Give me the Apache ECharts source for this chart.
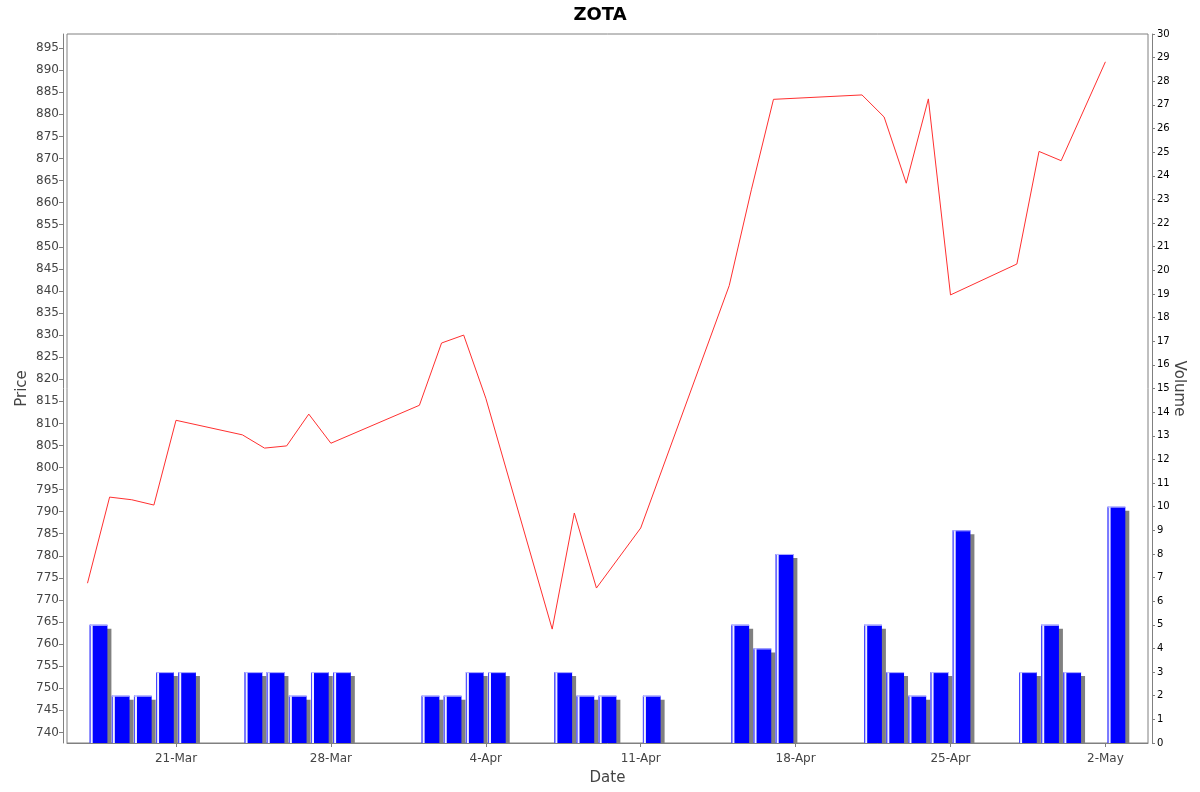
<!DOCTYPE html>
<html>
<head>
<meta charset="utf-8">
<script src="https://cdn.jsdelivr.net/npm/echarts@6/dist/echarts.min.js"></script>
<style>
  html, body { margin: 0; padding: 0; background: #fff; }
  #chart { width: 1200px; height: 792px; }
</style>
</head>
<body>
<div id="chart"></div>
<script>
// ---- data ----
const dates = [
  '2025-03-17','2025-03-18','2025-03-19','2025-03-20','2025-03-21',
  '2025-03-24','2025-03-25','2025-03-26','2025-03-27','2025-03-28',
  '2025-04-01','2025-04-02','2025-04-03','2025-04-04',
  '2025-04-07','2025-04-08','2025-04-09','2025-04-11',
  '2025-04-15','2025-04-16','2025-04-17',
  '2025-04-21','2025-04-22','2025-04-23','2025-04-24','2025-04-25',
  '2025-04-28','2025-04-29','2025-04-30',
  '2025-05-02'
];
const prices = [
  773.8, 793.3, 792.7, 791.5, 810.7,
  807.4, 804.4, 804.9, 812.1, 805.5,
  814.1, 828.2, 830.0, 815.7,
  763.4, 789.7, 772.7, 786.3,
  841.2, 862.9, 883.4,
  884.4, 879.4, 864.4, 883.5, 839.1,
  846.1, 871.6, 869.5,
  891.9
];
const volumes = [
  5, 2, 2, 3, 3,
  3, 3, 2, 3, 3,
  2, 2, 3, 3,
  3, 2, 2, 2,
  5, 4, 8,
  5, 3, 2, 3, 9,
  3, 5, 3,
  10
];
const dateTicks = ['2025-03-21','2025-03-28','2025-04-04','2025-04-11','2025-04-18','2025-04-25','2025-05-02'];
const priceTicks = [740,745,750,755,760,765,770,775,780,785,790,795,800,805,810,815,820,825,830,835,840,845,850,855,860,865,870,875,880,885,890,895];
const months = ['Jan','Feb','Mar','Apr','May','Jun','Jul','Aug','Sep','Oct','Nov','Dec'];

// ---- helpers ----
const DAY = 86400000;
function toTs(s) {
  const p = s.split('-').map(Number);
  return Date.UTC(p[0], p[1] - 1, p[2]);
}
const xMin = toTs('2025-03-16') + 0.074 * DAY;
const xMax = toTs('2025-05-03') + 0.925 * DAY;

const lineData = dates.map((d, i) => [toTs(d), prices[i]]);
const barData = dates.map((d, i) => [toTs(d), volumes[i]]);
const dateTickValues = dateTicks.map(toTs);

const chart = echarts.init(document.getElementById('chart'), null, { renderer: 'canvas' });

function renderBar(params, api) {
  const t = api.value(0);
  const v = api.value(1);
  const pTop = api.coord([t + 0.1 * DAY, v]);
  const pEnd = api.coord([t + 0.9 * DAY, 0]);
  const x0 = pTop[0], x1 = pEnd[0];
  const top = pTop[1], bottom = pEnd[1];
  const w = x1 - x0;
  const h = bottom - top;
  return {
    type: 'group',
    children: [
      { type: 'rect', shape: { x: x0 + 4, y: top + 4, width: w, height: Math.max(0, h - 4) },
        style: { fill: '#808080' } },
      { type: 'rect', shape: { x: x0, y: top, width: w, height: h },
        style: { fill: '#0000ff' } },
      { type: 'rect', shape: { x: x0, y: top, width: 1, height: h },
        style: { fill: '#4d4dff' } },
      { type: 'rect', shape: { x: x0 + 1, y: top, width: 2, height: h },
        style: { fill: '#f0f0ff' } },
      { type: 'rect', shape: { x: x0, y: top, width: w, height: 1 },
        style: { fill: '#b8b8ff' } }
    ]
  };
}

const option = {
  backgroundColor: '#ffffff',
  animation: false,
  title: {
    text: 'ZOTA',
    left: 'center',
    top: 6,
    padding: 0,
    textStyle: { fontFamily: 'DejaVu Sans', fontSize: 18, fontWeight: 'bold', color: '#000' }
  },
  grid: {
    left: 67, right: 52, top: 34, bottom: 49,
    outerBoundsMode: 'none',
    containLabel: false,
    show: true, borderColor: '#808080', borderWidth: 1, backgroundColor: '#ffffff'
  },
  xAxis: {
    type: 'value',
    min: xMin, max: xMax,
    offset: 4,
    name: 'Date',
    nameLocation: 'middle',
    nameGap: 24,
    nameMoveOverlap: false,
    nameTextStyle: { fontFamily: 'DejaVu Sans', fontSize: 15, color: '#444' },
    axisLine: { show: true, lineStyle: { color: '#808080', width: 1 } },
    axisTick: { show: true, length: 4, lineStyle: { color: '#808080' },
      customValues: dateTickValues },
    axisLabel: {
      fontFamily: 'DejaVu Sans', fontSize: 12, color: '#444', margin: 6,
      customValues: dateTickValues,
      hideOverlap: false,
      formatter: function (val) {
        const d = new Date(val);
        return d.getUTCDate() + '-' + months[d.getUTCMonth()];
      }
    },
    splitLine: { show: false }
  },
  yAxis: [
    {
      type: 'value',
      position: 'left',
      min: 737.6, max: 898.2,
      offset: 4,
      name: 'Price',
      nameLocation: 'middle',
      nameGap: 33,
      nameRotate: 90,
      nameMoveOverlap: false,
      nameTextStyle: { fontFamily: 'DejaVu Sans', fontSize: 15, color: '#444' },
      axisLine: { show: true, lineStyle: { color: '#808080', width: 1 } },
      axisTick: { show: true, length: 4, lineStyle: { color: '#808080' }, customValues: priceTicks },
      axisLabel: { fontFamily: 'DejaVu Sans', fontSize: 12, color: '#444', margin: 4, customValues: priceTicks },
      splitLine: { show: false }
    },
    {
      type: 'value',
      position: 'right',
      min: 0, max: 30, interval: 1,
      offset: 4,
      name: 'Volume',
      nameLocation: 'middle',
      nameGap: 19,
      nameRotate: -90,
      nameMoveOverlap: false,
      nameTextStyle: { fontFamily: 'DejaVu Sans', fontSize: 15, color: '#444' },
      axisLine: { show: true, lineStyle: { color: '#808080', width: 1 } },
      axisTick: { show: true, length: 3, lineStyle: { color: '#808080' } },
      axisLabel: { fontFamily: 'DejaVu Sans', fontSize: 10, color: '#000', margin: 5 },
      splitLine: { show: false }
    }
  ],
  series: [
    {
      type: 'custom',
      name: 'Volume',
      xAxisIndex: 0,
      yAxisIndex: 1,
      renderItem: renderBar,
      encode: { x: 0, y: 1 },
      data: barData,
      z: 2
    },
    {
      type: 'line',
      name: 'Price',
      xAxisIndex: 0,
      yAxisIndex: 0,
      data: lineData,
      showSymbol: false,
      symbol: 'none',
      lineStyle: { color: '#ff3030', width: 1 },
      z: 3
    }
  ]
};
chart.setOption(option);
</script>
</body>
</html>
